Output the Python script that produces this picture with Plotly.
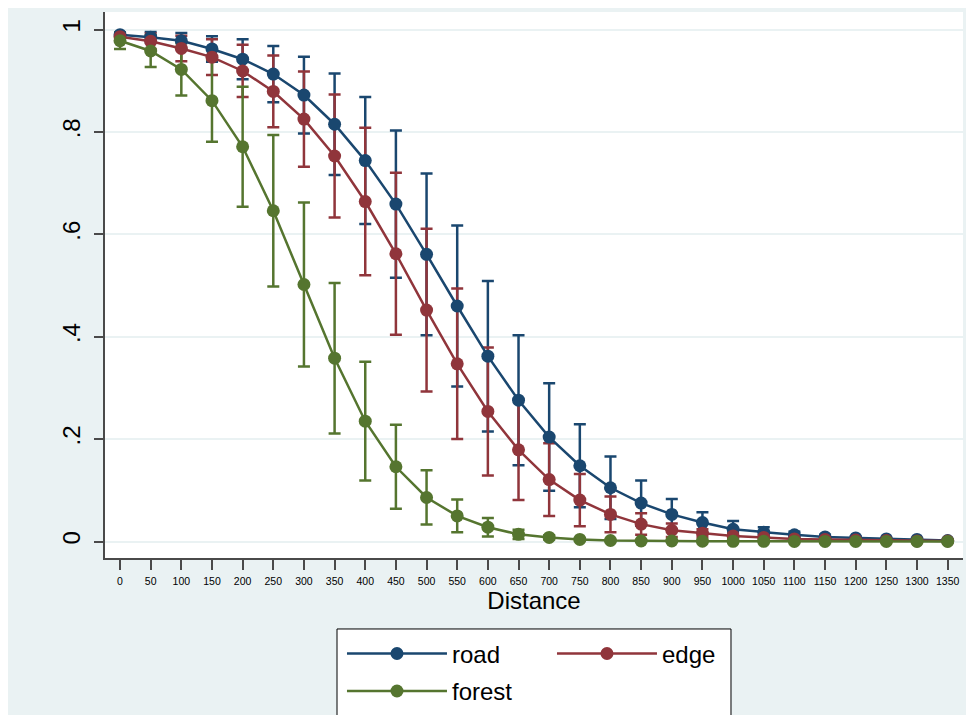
import plotly.graph_objects as go

distance = [0, 50, 100, 150, 200, 250, 300, 350, 400, 450, 500, 550, 600, 650,
            700, 750, 800, 850, 900, 950, 1000, 1050, 1100, 1150, 1200, 1250, 1300, 1350]

road = [0.990, 0.985, 0.978, 0.962, 0.942, 0.913, 0.872, 0.815, 0.744, 0.659,
        0.561, 0.460, 0.362, 0.276, 0.204, 0.148, 0.105, 0.075, 0.053, 0.037,
        0.024, 0.018, 0.013, 0.009, 0.007, 0.005, 0.004, 0.002]
road_ci = [0.004, 0.010, 0.015, 0.025, 0.039, 0.055, 0.075, 0.099, 0.124, 0.144,
           0.158, 0.157, 0.147, 0.127, 0.105, 0.081, 0.061, 0.044, 0.030, 0.020,
           0.016, 0.010, 0.006, 0.004, 0.003, 0.002, 0.001, 0.001]

edge = [0.986, 0.977, 0.963, 0.946, 0.919, 0.879, 0.825, 0.753, 0.664, 0.562,
        0.452, 0.347, 0.254, 0.179, 0.121, 0.081, 0.053, 0.034, 0.022, 0.016,
        0.011, 0.008, 0.005, 0.004, 0.003, 0.002, 0.001, 0.001]
edge_ci = [0.007, 0.015, 0.025, 0.035, 0.051, 0.070, 0.093, 0.120, 0.144, 0.158,
           0.159, 0.147, 0.125, 0.098, 0.071, 0.051, 0.035, 0.021, 0.013, 0.008,
           0.005, 0.004, 0.003, 0.002, 0.001, 0.001, 0.001, 0.001]

forest = [0.978, 0.958, 0.922, 0.861, 0.771, 0.646, 0.502, 0.358, 0.235, 0.146,
          0.086, 0.050, 0.028, 0.014, 0.008, 0.004, 0.002, 0.001, 0.001, 0.0005,
          0.0004, 0.0003, 0.0002, 0.0002, 0.0001, 0.0001, 0.0001, 0.0001]
forest_ci = [0.016, 0.031, 0.051, 0.080, 0.117, 0.148, 0.160, 0.147, 0.116, 0.082,
             0.053, 0.032, 0.018, 0.009, 0.004, 0.002, 0.001, 0.001, 0.0005, 0.0003,
             0.0002, 0.0002, 0.0001, 0.0001, 0.0001, 0.0001, 0.0001, 0.0001]

series_names = ["road", "edge", "forest"]
series_values = [road, edge, forest]
series_ci = [road_ci, edge_ci, forest_ci]
series_colors = ["#1A476F", "#90353B", "#55752F"]
series_legends = ["legend", "legend", "legend2"]

y_tickvals = [0, 0.2, 0.4, 0.6, 0.8, 1]
y_ticktext = ["0", ".2", ".4", ".6", ".8", "1"]

BG = "#EAF2F3"
AX = "#4A4A4A"
FONT = "Liberation Sans"

fig = go.Figure()

# confidence intervals first (underneath all lines)
for name, vals, ci, col in zip(series_names, series_values, series_ci, series_colors):
    fig.add_trace(go.Scatter(
        x=distance, y=vals, mode="markers",
        marker=dict(size=1, color="rgba(0,0,0,0)"),
        error_y=dict(type="data", array=ci, symmetric=True, color=col,
                     thickness=2.5, width=6),
        showlegend=False, hoverinfo="skip",
    ))

for name, vals, col, lg in zip(series_names, series_values, series_colors, series_legends):
    fig.add_trace(go.Scatter(
        x=distance, y=vals, mode="lines+markers", name=name,
        line=dict(color=col, width=2.5),
        marker=dict(color=col, size=13, line=dict(width=0)),
        legend=lg,
    ))

fig.update_layout(
    width=974, height=715,
    margin=dict(l=97, r=19, t=4, b=165, autoexpand=False),
    paper_bgcolor=BG, plot_bgcolor="white",
    font=dict(family=FONT, color="black"),
    xaxis=dict(
        range=[-24.5, 1375], tickmode="array", tickvals=distance,
        ticktext=[str(d) for d in distance],
        showgrid=False, zeroline=False, automargin=False,
        showline=True, linecolor=AX, linewidth=1.5,
        ticks="outside", ticklen=10, tickwidth=1.5, tickcolor=AX,
        ticklabelstandoff=3,
        tickfont=dict(size=10.5, family=FONT, color="black"),
        title=dict(text="Distance", font=dict(size=24, family=FONT, color="black"), standoff=4),
    ),
    yaxis=dict(
        range=[-0.0322, 1.0342], tickmode="array", tickvals=y_tickvals, ticktext=y_ticktext,
        showgrid=True, gridcolor=BG, gridwidth=2, zeroline=False, automargin=False,
        showline=True, linecolor=AX, linewidth=1.5,
        ticks="outside", ticklen=9, tickwidth=1.5, tickcolor=AX,
        tickangle=-90, ticklabelstandoff=5,
        tickfont=dict(size=24, family=FONT, color="black"),
    ),
    legend=dict(
        orientation="h", x=0.2762, xanchor="left", y=-0.1344, yanchor="top",
        bgcolor="rgba(0,0,0,0)", borderwidth=0,
        font=dict(size=24, family=FONT, color="black"),
        entrywidth=95, itemwidth=100,
    ),
    legend2=dict(
        orientation="h", x=0.2762, xanchor="left", y=-0.2031, yanchor="top",
        bgcolor="rgba(0,0,0,0)", borderwidth=0,
        font=dict(size=24, family=FONT, color="black"),
        itemwidth=100,
    ),
    shapes=[
        dict(type="rect", xref="paper", yref="paper", x0=0.2704, x1=0.7296,
             y0=-0.32, y1=-0.130, line=dict(color="black", width=1),
             fillcolor="white", layer="below"),
    ],
)

fig.write_html("out.html")
